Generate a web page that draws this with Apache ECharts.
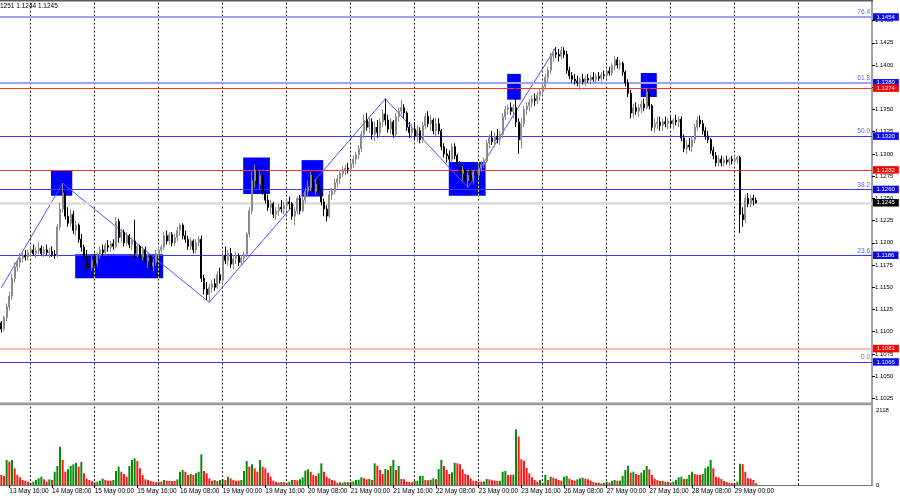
<!DOCTYPE html>
<html><head><meta charset="utf-8">
<script src="https://cdn.jsdelivr.net/npm/echarts@6/dist/echarts.min.js"></script>
<style>html,body{margin:0;padding:0;background:#fff}#c{width:900px;height:500px}</style>
</head><body><div id="c"></div>
<script>
// ---------- data ----------
const days = ['13 May','14 May','15 May','16 May','19 May','20 May','21 May','22 May','23 May','26 May','27 May','28 May','29 May','30 May','2 Jun'];
const firstHour = 13;
const slotCount = 327;
// [open, high, low, close] per H1 bar
const ohlc = [
[1.1110,1.1112,1.1099,1.1103],[1.1103,1.1118,1.1101,1.1116],[1.1116,1.1132,1.1112,1.1128],[1.1128,1.1145,1.1124,1.1140],
[1.1140,1.1165,1.1136,1.1160],[1.1160,1.1178,1.1155,1.1173],[1.1173,1.1182,1.1168,1.1178],[1.1178,1.1188,1.1172,1.1183],
[1.1183,1.1190,1.1178,1.1186],[1.1186,1.1192,1.1180,1.1184],[1.1184,1.1192,1.1180,1.1189],[1.1189,1.1196,1.1184,1.1192],
[1.1192,1.1198,1.1185,1.1188],[1.1188,1.1195,1.1183,1.1191],[1.1191,1.1201,1.1187,1.1194],[1.1194,1.1197,1.1185,1.1188],
[1.1188,1.1196,1.1184,1.1192],[1.1192,1.1198,1.1186,1.1189],[1.1189,1.1194,1.1183,1.1190],[1.1190,1.1196,1.1184,1.1187],
[1.1187,1.1192,1.1182,1.1186],[1.1186,1.1221,1.1184,1.1218],[1.1218,1.1245,1.1214,1.1238],[1.1238,1.1267,1.1234,1.1256],
[1.1256,1.1262,1.1226,1.1230],[1.1230,1.1240,1.1218,1.1222],[1.1222,1.1238,1.1218,1.1232],[1.1232,1.1236,1.1210,1.1214],
[1.1214,1.1225,1.1208,1.1220],[1.1220,1.1222,1.1200,1.1204],[1.1204,1.1210,1.1190,1.1195],[1.1195,1.1198,1.1178,1.1184],
[1.1184,1.1192,1.1170,1.1176],[1.1176,1.1182,1.1166,1.1172],[1.1172,1.1185,1.1168,1.1180],[1.1180,1.1188,1.1174,1.1177],
[1.1177,1.1190,1.1173,1.1186],[1.1186,1.1196,1.1182,1.1192],[1.1192,1.1198,1.1185,1.1189],[1.1189,1.1200,1.1186,1.1197],
[1.1197,1.1203,1.1190,1.1195],[1.1195,1.1202,1.1190,1.1199],[1.1199,1.1204,1.1192,1.1196],[1.1196,1.1229,1.1194,1.1224],
[1.1224,1.1227,1.1200,1.1206],[1.1206,1.1216,1.1200,1.1212],[1.1212,1.1215,1.1196,1.1200],[1.1200,1.1212,1.1196,1.1208],
[1.1208,1.1210,1.1194,1.1198],[1.1198,1.1206,1.1192,1.1202],[1.1202,1.1226,1.1182,1.1188],[1.1188,1.1200,1.1184,1.1196],
[1.1196,1.1198,1.1180,1.1184],[1.1184,1.1196,1.1180,1.1192],[1.1192,1.1196,1.1176,1.1180],[1.1180,1.1188,1.1172,1.1184],
[1.1184,1.1186,1.1170,1.1174],[1.1174,1.1182,1.1168,1.1178],[1.1178,1.1192,1.1174,1.1188],[1.1188,1.1196,1.1184,1.1192],
[1.1192,1.1198,1.1188,1.1195],[1.1195,1.1212,1.1192,1.1208],[1.1208,1.1214,1.1198,1.1202],[1.1202,1.1212,1.1198,1.1209],
[1.1209,1.1212,1.1196,1.1200],[1.1200,1.1210,1.1196,1.1206],[1.1206,1.1218,1.1202,1.1214],[1.1214,1.1222,1.1208,1.1220],
[1.1220,1.1222,1.1204,1.1208],[1.1208,1.1214,1.1200,1.1204],[1.1204,1.1208,1.1192,1.1196],[1.1196,1.1206,1.1192,1.1202],
[1.1202,1.1204,1.1188,1.1192],[1.1192,1.1204,1.1188,1.1200],[1.1200,1.1208,1.1196,1.1204],[1.1204,1.1208,1.1156,1.1160],
[1.1160,1.1164,1.1142,1.1148],[1.1148,1.1156,1.1136,1.1142],[1.1142,1.1154,1.1133,1.1150],[1.1150,1.1158,1.1144,1.1154],
[1.1154,1.1160,1.1146,1.1150],[1.1150,1.1168,1.1148,1.1164],[1.1164,1.1172,1.1154,1.1158],[1.1158,1.1190,1.1156,1.1186],
[1.1186,1.1196,1.1176,1.1180],[1.1180,1.1192,1.1174,1.1188],[1.1188,1.1194,1.1172,1.1176],[1.1176,1.1186,1.1170,1.1182],
[1.1182,1.1190,1.1176,1.1185],[1.1185,1.1188,1.1174,1.1178],[1.1178,1.1186,1.1174,1.1183],[1.1183,1.1190,1.1178,1.1187],
[1.1187,1.1212,1.1184,1.1210],[1.1210,1.1240,1.1206,1.1236],[1.1236,1.1280,1.1232,1.1270],[1.1270,1.1288,1.1262,1.1282],
[1.1282,1.1286,1.1262,1.1266],[1.1266,1.1280,1.1260,1.1276],[1.1276,1.1278,1.1254,1.1258],[1.1258,1.1262,1.1244,1.1248],
[1.1248,1.1254,1.1236,1.1240],[1.1240,1.1248,1.1232,1.1244],[1.1244,1.1246,1.1228,1.1232],[1.1232,1.1240,1.1226,1.1236],
[1.1236,1.1244,1.1230,1.1240],[1.1240,1.1248,1.1234,1.1238],[1.1238,1.1246,1.1232,1.1242],[1.1242,1.1250,1.1236,1.1246],
[1.1246,1.1252,1.1238,1.1244],[1.1244,1.1246,1.1226,1.1230],[1.1230,1.1240,1.1220,1.1236],[1.1236,1.1252,1.1232,1.1250],
[1.1250,1.1254,1.1232,1.1236],[1.1236,1.1252,1.1234,1.1248],[1.1248,1.1262,1.1244,1.1258],[1.1258,1.1270,1.1252,1.1262],
[1.1262,1.1280,1.1258,1.1276],[1.1276,1.1279,1.1254,1.1258],[1.1258,1.1272,1.1254,1.1266],[1.1266,1.1274,1.1256,1.1260],
[1.1260,1.1264,1.1242,1.1246],[1.1246,1.1250,1.1230,1.1238],[1.1238,1.1242,1.1224,1.1230],[1.1230,1.1258,1.1228,1.1254],
[1.1254,1.1262,1.1248,1.1258],[1.1258,1.1272,1.1254,1.1268],[1.1268,1.1276,1.1262,1.1272],[1.1272,1.1282,1.1266,1.1278],
[1.1278,1.1286,1.1274,1.1282],[1.1282,1.1288,1.1276,1.1284],[1.1284,1.1290,1.1278,1.1283],[1.1283,1.1292,1.1280,1.1289],
[1.1289,1.1298,1.1284,1.1294],[1.1294,1.1302,1.1288,1.1299],[1.1299,1.1310,1.1294,1.1306],[1.1306,1.1326,1.1302,1.1322],
[1.1322,1.1344,1.1318,1.1338],[1.1338,1.1346,1.1326,1.1330],[1.1330,1.1342,1.1324,1.1336],[1.1336,1.1340,1.1316,1.1322],
[1.1322,1.1336,1.1314,1.1330],[1.1330,1.1338,1.1318,1.1324],[1.1324,1.1340,1.1320,1.1336],[1.1336,1.1350,1.1330,1.1345],
[1.1345,1.1362,1.1332,1.1338],[1.1338,1.1344,1.1324,1.1328],[1.1328,1.1340,1.1322,1.1336],[1.1336,1.1338,1.1318,1.1322],
[1.1322,1.1346,1.1320,1.1342],[1.1342,1.1352,1.1336,1.1348],[1.1348,1.1361,1.1344,1.1352],[1.1352,1.1356,1.1340,1.1346],
[1.1346,1.1348,1.1326,1.1330],[1.1330,1.1336,1.1318,1.1324],[1.1324,1.1334,1.1318,1.1328],[1.1328,1.1336,1.1316,1.1320],
[1.1320,1.1332,1.1314,1.1326],[1.1326,1.1330,1.1312,1.1316],[1.1316,1.1336,1.1312,1.1332],[1.1332,1.1346,1.1328,1.1342],
[1.1342,1.1348,1.1330,1.1334],[1.1334,1.1344,1.1326,1.1338],[1.1338,1.1340,1.1322,1.1326],[1.1326,1.1340,1.1320,1.1334],
[1.1334,1.1340,1.1322,1.1326],[1.1326,1.1328,1.1304,1.1308],[1.1308,1.1312,1.1296,1.1300],[1.1300,1.1306,1.1290,1.1298],
[1.1298,1.1304,1.1290,1.1294],[1.1294,1.1312,1.1290,1.1308],[1.1308,1.1312,1.1294,1.1298],[1.1298,1.1300,1.1284,1.1288],
[1.1288,1.1292,1.1274,1.1278],[1.1278,1.1286,1.1270,1.1282],[1.1282,1.1284,1.1266,1.1270],[1.1270,1.1280,1.1262,1.1276],
[1.1276,1.1284,1.1268,1.1272],[1.1272,1.1282,1.1266,1.1280],[1.1280,1.1286,1.1272,1.1276],[1.1276,1.1288,1.1272,1.1284],
[1.1284,1.1292,1.1280,1.1288],[1.1288,1.1296,1.1284,1.1292],[1.1292,1.1316,1.1290,1.1312],[1.1312,1.1322,1.1306,1.1318],
[1.1318,1.1326,1.1310,1.1314],[1.1314,1.1324,1.1308,1.1320],[1.1320,1.1328,1.1312,1.1316],[1.1316,1.1326,1.1310,1.1322],
[1.1322,1.1346,1.1318,1.1342],[1.1342,1.1354,1.1338,1.1350],[1.1350,1.1356,1.1344,1.1352],[1.1352,1.1358,1.1344,1.1348],
[1.1348,1.1356,1.1340,1.1352],[1.1352,1.1379,1.1330,1.1336],[1.1336,1.1340,1.1300,1.1316],[1.1316,1.1340,1.1306,1.1334],
[1.1334,1.1354,1.1330,1.1350],[1.1350,1.1358,1.1344,1.1354],[1.1354,1.1362,1.1348,1.1358],[1.1358,1.1366,1.1352,1.1362],
[1.1362,1.1368,1.1354,1.1360],[1.1360,1.1370,1.1356,1.1366],[1.1366,1.1374,1.1360,1.1370],[1.1370,1.1380,1.1366,1.1376],
[1.1376,1.1390,1.1372,1.1386],[1.1386,1.1398,1.1380,1.1394],[1.1394,1.1414,1.1390,1.1410],[1.1410,1.1418,1.1404,1.1414],
[1.1414,1.1420,1.1408,1.1412],[1.1412,1.1418,1.1404,1.1410],[1.1410,1.1421,1.1406,1.1416],[1.1416,1.1420,1.1408,1.1412],
[1.1412,1.1416,1.1390,1.1394],[1.1394,1.1398,1.1384,1.1388],[1.1388,1.1392,1.1380,1.1384],[1.1384,1.1390,1.1378,1.1382],
[1.1382,1.1388,1.1376,1.1380],[1.1380,1.1386,1.1372,1.1384],[1.1384,1.1390,1.1378,1.1381],[1.1381,1.1388,1.1376,1.1385],
[1.1385,1.1390,1.1380,1.1383],[1.1383,1.1389,1.1378,1.1386],[1.1386,1.1392,1.1381,1.1384],[1.1384,1.1390,1.1380,1.1387],
[1.1387,1.1392,1.1382,1.1385],[1.1385,1.1392,1.1381,1.1389],[1.1389,1.1394,1.1384,1.1388],[1.1388,1.1396,1.1384,1.1393],
[1.1393,1.1398,1.1388,1.1391],[1.1391,1.1402,1.1388,1.1399],[1.1399,1.1410,1.1394,1.1406],[1.1406,1.1409,1.1396,1.1400],
[1.1400,1.1406,1.1394,1.1402],[1.1402,1.1404,1.1388,1.1392],[1.1392,1.1394,1.1376,1.1380],[1.1380,1.1384,1.1364,1.1368],
[1.1368,1.1372,1.1340,1.1346],[1.1346,1.1356,1.1340,1.1352],[1.1352,1.1358,1.1344,1.1348],[1.1348,1.1356,1.1342,1.1352],
[1.1352,1.1360,1.1346,1.1356],[1.1356,1.1362,1.1348,1.1352],[1.1352,1.1374,1.1350,1.1370],[1.1370,1.1374,1.1350,1.1354],
[1.1354,1.1356,1.1326,1.1330],[1.1330,1.1340,1.1324,1.1334],[1.1334,1.1342,1.1328,1.1336],[1.1336,1.1342,1.1326,1.1332],
[1.1332,1.1340,1.1326,1.1336],[1.1336,1.1342,1.1330,1.1334],[1.1334,1.1340,1.1328,1.1337],[1.1337,1.1342,1.1330,1.1334],
[1.1334,1.1340,1.1328,1.1338],[1.1338,1.1344,1.1332,1.1336],[1.1336,1.1342,1.1330,1.1339],[1.1339,1.1342,1.1314,1.1318],
[1.1318,1.1322,1.1302,1.1306],[1.1306,1.1316,1.1300,1.1310],[1.1310,1.1318,1.1304,1.1308],[1.1308,1.1320,1.1302,1.1316],
[1.1316,1.1334,1.1312,1.1330],[1.1330,1.1342,1.1326,1.1338],[1.1338,1.1343,1.1330,1.1334],[1.1334,1.1338,1.1322,1.1326],
[1.1326,1.1330,1.1316,1.1320],[1.1320,1.1326,1.1312,1.1316],[1.1316,1.1318,1.1300,1.1304],[1.1304,1.1308,1.1294,1.1298],
[1.1298,1.1302,1.1286,1.1290],[1.1290,1.1298,1.1286,1.1294],[1.1294,1.1298,1.1286,1.1290],[1.1290,1.1296,1.1286,1.1293],
[1.1293,1.1298,1.1288,1.1291],[1.1291,1.1296,1.1286,1.1294],[1.1294,1.1298,1.1288,1.1292],[1.1292,1.1298,1.1288,1.1294],
[1.1294,1.1298,1.1289,1.1296],[1.1296,1.1298,1.1211,1.1232],[1.1232,1.1240,1.1218,1.1226],[1.1226,1.1254,1.1222,1.1250],
[1.1250,1.1256,1.1240,1.1244],[1.1244,1.1254,1.1240,1.1250],[1.1250,1.1254,1.1242,1.1248],[1.1248,1.1251,1.1244,1.1245]
];
const volumes = [
282,254,706,659,706,471,282,216,141,122, 94,66,94,141,188,235,160,94,160,141,
376,537,1083,706,376,443,537,584,631,518, 650,329,179,141,104,75,94,122,179,141,
122,122,141,395,518,376,311,235,537,706, 753,678,471,282,160,141,113,94,75,94,
94,141,122,113,113,113,160,376,424,376, 282,311,282,330,376,866,395,330,188,122,
141,113,141,160,141,235,188,141,122,122, 141,395,678,518,584,471,376,706,518,471,
348,235,122,94,66,85,75,66,94,141, 141,130,160,216,405,443,376,282,254,329,
612,376,235,188,141,122,66,75,66,85, 75,94,100,141,150,216,188,160,170,141,
612,546,424,311,452,424,537,706,424,537, 170,165,94,85,75,113,120,254,260,141,
135,150,188,160,452,706,537,424,311,358, 631,612,584,443,311,282,188,122,113,94,
94,100,169,160,132,122,113,122,376,395, 282,282,290,1572,1365,726,687,480,329,216,
141,94,141,66,282,141,235,207,179,141, 122,235,254,179,141,122,160,188,207,179,
160,122,85,66,70,47,60,94,66,122, 141,122,125,254,424,546,348,376,311,282,
348,424,537,443,282,179,141,113,120,94, 90,66,94,141,216,235,170,179,282,376,
311,292,282,311,471,520,706,471,235,216, 170,113,85,66,60,60,94,600,590,376,
188,179,141,47
];
// zigzag turning points: [bar index, price]
const zigzag = [[0,1.11495],[23,1.1267],[78,1.1133],[144,1.1362],[175,1.1262],[208,1.1420]];
// supply/demand zones: bar-index span and price span
const zoneBars = [[18.6,26.6],[27.7,60.7],[90.7,100.7],[112.6,120.7],[167.8,181.6],[189.7,194.8],[239.8,245.8]];
const zonePrices = [[1.1281,1.1253],[1.1187,1.1160],[1.1296,1.1255],[1.1293,1.1252],[1.1291,1.1253],[1.1390,1.1361],[1.1391,1.1364]];
const fibPrices = [1.1454,1.1380,1.1320,1.1260,1.1186,1.1066];
const fibNames = ['76.4','61.8','50.0','38.2','23.6','0.0'];
const redPrices = [1.1374,1.1282,1.1081];
const lastPrice = 1.1245;
const headerText = '1251 1.1244 1.1245';
const volumeMax = 2118;

// ---------- build ----------
const FONT = 'Liberation Sans, Arial, sans-serif';
const cats = [];
days.forEach((d, k) => { for (let h = (k === 0 ? firstHour : 0); h < 24; h++) cats.push(d + ' ' + String(h).padStart(2, '0') + ':00'); });
cats.length = slotCount;
const lastBar = ohlc.length - 1;
const midnights = [];
cats.forEach((c, i) => { if (c.endsWith(' 00:00') && i < slotCount - 8) midnights.push(i); });

const candleData = ohlc.map(r => [r[0], r[3], r[2], r[1]]);
const volData = volumes.map((v, i) => ({
  value: v,
  itemStyle: { color: (i > 0 && v > volumes[i - 1]) ? '#0b8a0b' : '#ff1a1a' }
}));

const yellowSegs = [];
zoneBars.forEach((zb, k) => {
  midnights.forEach(m => {
    if (m > zb[0] && m < zb[1]) yellowSegs.push([{ coord: [m, zonePrices[k][1]] }, { coord: [m, zonePrices[k][0]] }]);
  });
});

const HIDDEN = { color: 'rgba(255,255,255,0)', width: 0, type: 'solid' };
function boxLabel(p, bg) {
  return { show: true, position: 'end', distance: 1, formatter: p.toFixed(4), backgroundColor: bg,
    color: '#fff', fontSize: 6, fontFamily: FONT, padding: [1, 4, 0.5, 3.5], lineHeight: 6 };
}
const levelData = [];
fibPrices.forEach((p, i) => {
  const st = i < 2 ? { color: '#a0a0ff', width: 2, type: 'solid' } : { color: '#3a3aff', width: 1, type: 'solid' };
  levelData.push({ yAxis: p, lineStyle: st,
    label: { show: true, position: 'insideEndTop', distance: [2, 1], formatter: fibNames[i], color: '#6060ff', fontSize: 6.5, fontFamily: FONT } });
});
redPrices.forEach((p, i) => {
  const st = i < 2 ? { color: '#ff3333', width: 1, type: 'solid' } : { color: '#ffa8a8', width: 1.5, type: 'solid' };
  levelData.push({ yAxis: p, lineStyle: st, label: { show: false } });
});
// price boxes (blue first, red on top)
fibPrices.forEach(p => levelData.push({ yAxis: p, lineStyle: HIDDEN, label: boxLabel(p, '#0a0af5') }));
redPrices.forEach(p => levelData.push({ yAxis: p, lineStyle: HIDDEN, label: boxLabel(p, '#ff0000') }));

const vLineStyle = { color: '#222', width: 1, type: [2, 2] };
const showLabel = i => (i % 16 === 3) && i <= lastBar;

const option = {
  animation: false,
  backgroundColor: '#fff',
  grid: [
    { left: 0, width: 872, top: -1.67, height: 422.27, outerBoundsMode: 'none', containLabel: false },
    { left: 0, width: 872, top: 410, height: 75, outerBoundsMode: 'none', containLabel: false }
  ],
  xAxis: [
    { type: 'category', gridIndex: 0, data: cats, show: false, boundaryGap: true, axisLine: { onZero: false } },
    { type: 'value', gridIndex: 0, min: -0.5, max: slotCount - 0.5, show: false, axisLine: { onZero: false } },
    { type: 'category', gridIndex: 1, data: cats, boundaryGap: true,
      axisLine: { show: true, onZero: false, lineStyle: { color: '#707070', width: 1 } },
      axisTick: { show: true, interval: (i) => showLabel(i), alignWithLabel: true, length: 3, lineStyle: { color: '#000' } },
      axisLabel: { interval: (i) => showLabel(i), align: 'left', margin: 3, fontSize: 6.5, fontFamily: FONT, color: '#000' },
      splitLine: { show: false } },
    { type: 'value', gridIndex: 1, min: -0.5, max: slotCount - 0.5, show: false, axisLine: { onZero: false } }
  ],
  yAxis: [
    { type: 'value', gridIndex: 0, position: 'right', min: 1.1000, max: 1.1475, interval: 0.0025,
      axisLine: { show: true, onZero: false, lineStyle: { color: '#a0a0a0', width: 2 } },
      axisTick: { show: true, length: 3, lineStyle: { color: '#000' } },
      axisLabel: { show: true, margin: 3, fontSize: 6, fontFamily: FONT, color: '#000', showMinLabel: false, showMaxLabel: false,
        formatter: v => v.toFixed(4) },
      splitLine: { show: false } },
    { type: 'value', gridIndex: 1, position: 'right', min: 0, max: volumeMax, interval: volumeMax,
      axisLine: { show: true, onZero: false, lineStyle: { color: '#a0a0a0', width: 2 } },
      axisTick: { show: false },
      axisLabel: { show: true, margin: 4, fontSize: 6, fontFamily: FONT, color: '#000', formatter: v => String(Math.round(v)) },
      splitLine: { show: false } }
  ],
  series: [
    { type: 'line', xAxisIndex: 1, yAxisIndex: 0, data: [], z: 1, silent: true,
      markLine: { silent: true, precision: 6, symbol: ['none', 'none'], label: { show: false }, lineStyle: vLineStyle,
        data: midnights.map(m => ({ xAxis: m })) } },
    { type: 'line', xAxisIndex: 1, yAxisIndex: 0, data: zigzag, z: 2, silent: true, symbol: 'none',
      lineStyle: { color: '#5252ff', width: 1 } },
    { type: 'line', xAxisIndex: 1, yAxisIndex: 0, data: [], z: 3, silent: true,
      markArea: { silent: true, precision: 6, itemStyle: { color: '#0000ff', opacity: 1 },
        data: zoneBars.map((zb, k) => [{ coord: [zb[0], zonePrices[k][0]] }, { coord: [zb[1], zonePrices[k][1]] }]) } },
    { type: 'line', xAxisIndex: 1, yAxisIndex: 0, data: [], z: 4, silent: true,
      markLine: { silent: true, precision: 6, symbol: ['none', 'none'], label: { show: false },
        lineStyle: { color: '#ffff00', width: 1, type: [2, 2] }, data: yellowSegs } },
    { type: 'line', xAxisIndex: 0, yAxisIndex: 0, data: [], z: 4, silent: true, clip: false,
      markLine: { silent: true, precision: 6, symbol: ['none', 'none'],
        data: [{ yAxis: lastPrice, lineStyle: { color: '#dcdcdc', width: 2.5, type: 'solid' }, label: boxLabel(lastPrice, '#000') }] } },
    { type: 'candlestick', xAxisIndex: 0, yAxisIndex: 0, data: candleData, z: 5, silent: true, barWidth: 1.8,
      itemStyle: { color: '#a8a8a8', color0: '#000000', borderColor: '#8a8a8a', borderColor0: '#000000', borderWidth: 1 } },
    { type: 'line', xAxisIndex: 0, yAxisIndex: 0, data: [], z: 6, silent: true, clip: false,
      markLine: { silent: true, precision: 6, symbol: ['none', 'none'], data: levelData } },
    { type: 'line', xAxisIndex: 3, yAxisIndex: 1, data: [], z: 1, silent: true,
      markLine: { silent: true, precision: 6, symbol: ['none', 'none'], label: { show: false }, lineStyle: vLineStyle,
        data: midnights.map(m => ({ xAxis: m })) } },
    { type: 'bar', xAxisIndex: 2, yAxisIndex: 1, data: volData, barWidth: 2, z: 2, silent: true }
  ],
  graphic: [
    { type: 'rect', z: 100, shape: { x: 0, y: 0, width: 873, height: 1.5 }, style: { fill: '#5a5a5a' } },
    { type: 'rect', z: 100, shape: { x: 0, y: 402.6, width: 873, height: 2.6 }, style: { fill: '#9a9a9a' } },
    { type: 'text', z: 100, x: 0, y: 3, style: { text: headerText, font: '6.5px ' + FONT, fill: '#000' } }
  ]
};
const chart = echarts.init(document.getElementById('c'), null, { renderer: 'canvas' });
chart.setOption(option);
</script></body></html>
